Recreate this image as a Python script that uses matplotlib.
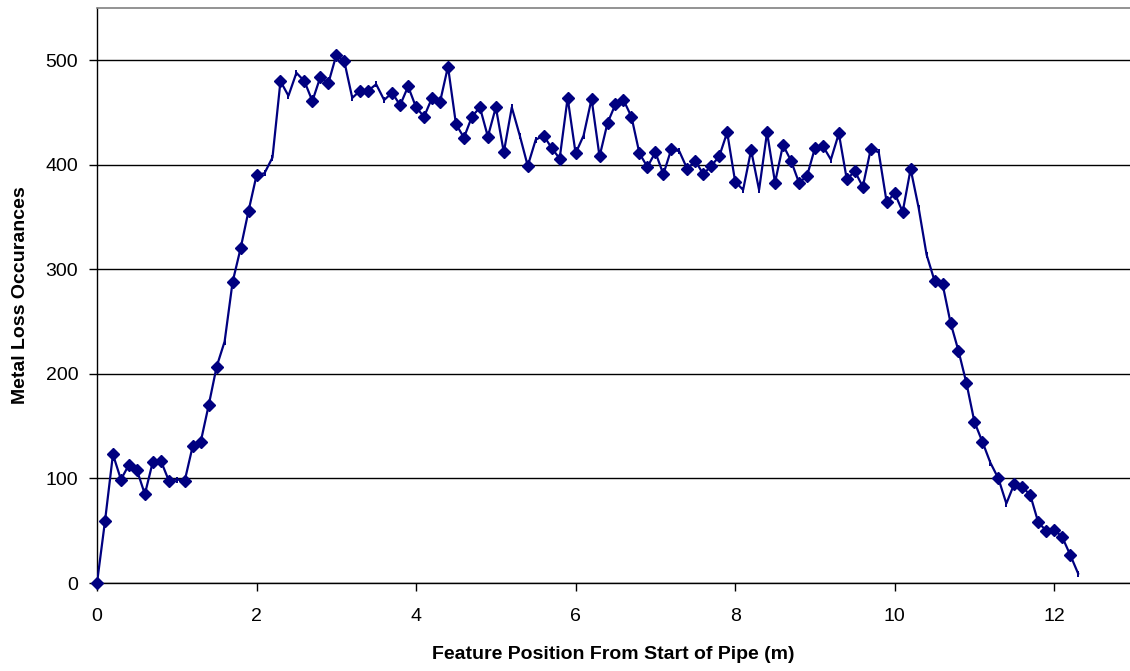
import numpy as np
import matplotlib
matplotlib.use('Agg')
import matplotlib.pyplot as plt

plt.rcParams['font.family'] = ['Liberation Sans', 'DejaVu Sans']

# position along pipe (m), one reading every 0.1 m
position = np.round(np.arange(124) * 0.1, 1)

# metal loss counts
occurrences = [
    0, 59, 123, 99, 113, 108, 85, 116, 117, 98,
    99, 98, 131, 135, 170, 207, 231, 288, 320, 356,
    390, 392, 407, 480, 466, 488, 480, 461, 484, 478,
    505, 499, 464, 471, 471, 477, 462, 469, 457, 475,
    455, 446, 464, 460, 494, 439, 426, 446, 455, 427,
    455, 412, 455, 428, 399, 424, 428, 416, 406, 464,
    411, 428, 463, 408, 440, 458, 462, 446, 411, 398,
    412, 391, 415, 413, 396, 404, 391, 399, 408, 431,
    384, 376, 414, 376, 431, 383, 419, 404, 383, 389,
    416, 418, 405, 430, 386, 394, 379, 415, 412, 364,
    373, 355, 396, 359, 314, 289, 286, 249, 222, 191,
    154, 135, 115, 100, 76, 95, 92, 84, 58, 50,
    51, 44, 27, 9,
]

# readings drawn without a diamond marker
no_marker = [1.0, 1.6, 2.1, 2.2, 2.4, 2.5, 3.2, 3.5, 3.6, 5.2, 5.3, 5.5,
             6.1, 7.3, 8.1, 8.3, 9.2, 9.8, 10.3, 10.4, 11.2, 11.4, 12.3]

y_ticks = [0, 100, 200, 300, 400, 500]
x_ticks = [0, 2, 4, 6, 8, 10, 12]

occurrences = np.array(occurrences)
plain = np.isin(position, no_marker)

fig = plt.figure(figsize=(11.3, 6.71), dpi=100)
ax = fig.add_axes([97 / 1130, 1 - 583 / 671, 1 - 97 / 1130, (583 - 8) / 671])

navy = '#000080'
ax.plot(position, occurrences, color=navy, linewidth=1.6, zorder=3)
ax.plot(position[~plain], occurrences[~plain], linestyle='none', marker='D',
        markersize=6.5, color=navy, zorder=4, clip_on=False)
ax.plot(position[plain], occurrences[plain], linestyle='none', marker='|',
        markersize=5, markeredgewidth=1.4, color=navy, zorder=4)

ax.set_xlim(0, 12.95)
ax.set_ylim(0, 550)
ax.set_xticks(x_ticks)
ax.set_yticks(y_ticks)
ax.yaxis.grid(True, color='black', linewidth=1)
ax.set_axisbelow(True)

ax.spines['right'].set_visible(False)
ax.spines['top'].set_color('#808080')
ax.spines['top'].set_linewidth(1.2)
for s in ['left', 'bottom']:
    ax.spines[s].set_color('black')
    ax.spines[s].set_linewidth(1)

ax.tick_params(axis='both', direction='out', length=6, width=1, labelsize=14)
ax.tick_params(axis='x', pad=12)
ax.tick_params(axis='y', pad=7.5)

ax.set_xlabel('Feature Position From Start of Pipe (m)', fontsize=14,
              fontweight='bold', labelpad=15)
ax.set_ylabel('Metal Loss Occurances', fontsize=14, fontweight='bold', labelpad=12)

fig.savefig('out.png', dpi=100)
